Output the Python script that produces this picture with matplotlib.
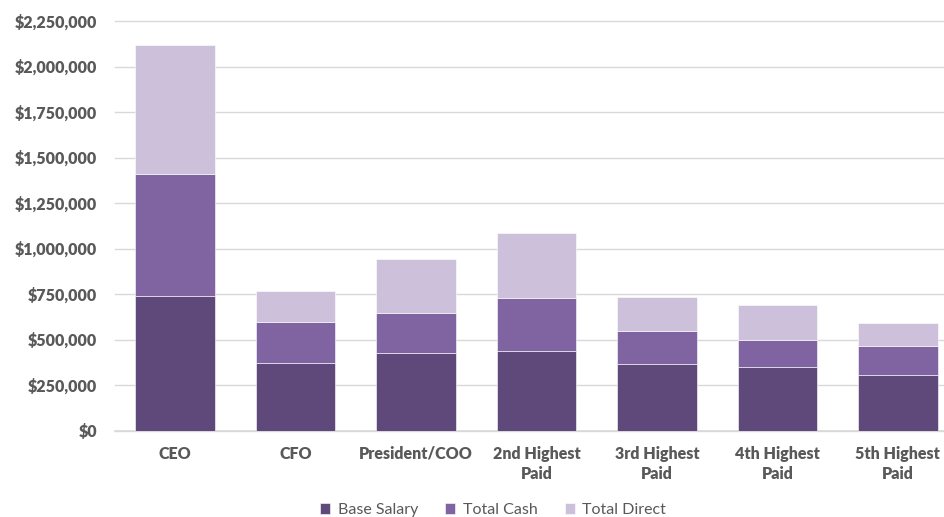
import matplotlib.pyplot as plt
from matplotlib.ticker import FuncFormatter

# --- data (segment values, stacked) ---
categories = ["CEO", "CFO", "President/COO", "2nd Highest\nPaid",
              "3rd Highest\nPaid", "4th Highest\nPaid", "5th Highest\nPaid"]
base_salary = [740000, 370000, 425000, 436000, 364000, 348000, 306000]
total_cash = [1410000, 598000, 643000, 729000, 544000, 495000, 467000]
total_direct = [2120000, 769000, 945000, 1086000, 731000, 692000, 588000]

series_names = ["Base Salary", "Total Cash", "Total Direct"]
colors = ["#5F497A", "#8064A2", "#CCC0DA"]
y_ticks = [0, 250000, 500000, 750000, 1000000, 1250000, 1500000, 1750000, 2000000, 2250000]

plt.rcParams["font.family"] = ["Lato", "DejaVu Sans"]

fig = plt.figure(figsize=(9.44, 5.17), dpi=100)
ax = fig.add_axes([115 / 944, 86.5 / 517, (958 - 115) / 944, 409.5 / 517])

x = range(len(categories))
cash_seg = [c - b for c, b in zip(total_cash, base_salary)]
direct_seg = [d - c for d, c in zip(total_direct, total_cash)]

ax.bar(x, base_salary, width=0.66, color=colors[0], edgecolor="white",
       linewidth=0.4, label=series_names[0], zorder=3)
ax.bar(x, cash_seg, bottom=base_salary, width=0.66, color=colors[1],
       edgecolor="white", linewidth=0.4, label=series_names[1], zorder=3)
ax.bar(x, direct_seg, bottom=total_cash, width=0.66, color=colors[2],
       edgecolor="white", linewidth=0.4, label=series_names[2], zorder=3)

ax.set_xlim(-0.5, len(categories) - 0.5)
ax.set_ylim(0, 2250000)
ax.set_yticks(y_ticks)
ax.yaxis.set_major_formatter(FuncFormatter(lambda v, p: f"${v:,.0f}"))
ax.set_xticks(list(x))
ax.set_xticklabels(categories)

ax.grid(axis="y", color="#D9D9D9", linewidth=1.0, zorder=0)
for gl in ax.get_ygridlines():
    gl.set_clip_on(False)
for s in ["top", "right", "left"]:
    ax.spines[s].set_visible(False)
ax.spines["bottom"].set_color("#D9D9D9")
ax.spines["bottom"].set_linewidth(1.2)

ax.tick_params(axis="both", length=0, colors="#595959", labelsize=11.5)
ax.tick_params(axis="y", pad=13)
ax.tick_params(axis="x", pad=11)
for lab in ax.get_xticklabels() + ax.get_yticklabels():
    lab.set_fontweight("heavy")
    lab.set_linespacing(1.3)

leg = fig.legend(loc="center", bbox_to_anchor=(493 / 944, 7 / 517), ncol=3,
                 frameon=False, fontsize=11.5, handlelength=0.65,
                 handleheight=0.65, handletextpad=0.45, columnspacing=1.7)
for t in leg.get_texts():
    t.set_color("#595959")

fig.savefig("out.png", dpi=100)
